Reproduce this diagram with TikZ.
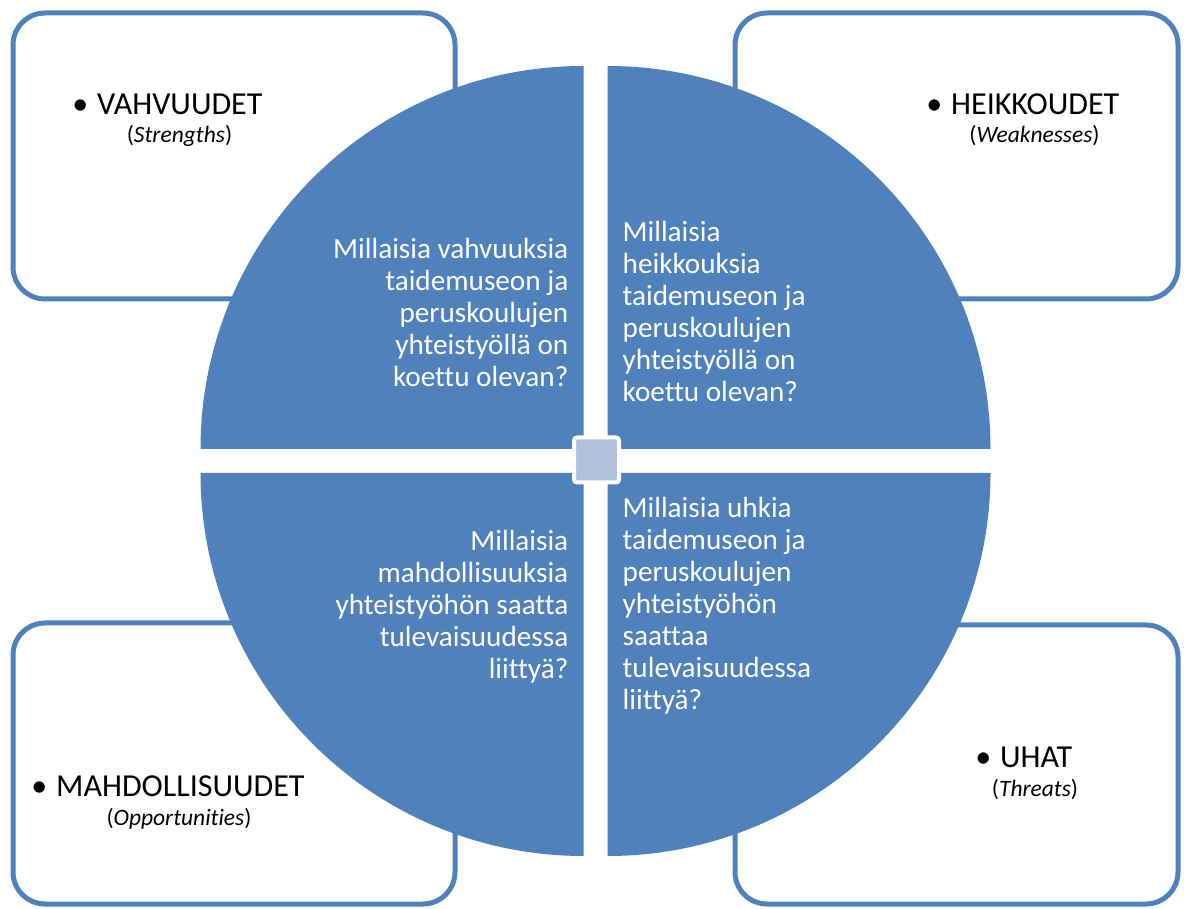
\documentclass[tikz,border=0pt]{standalone}
\usepackage{fontspec}
\setmainfont{Carlito}[Ligatures=NoCommon]
\definecolor{swotblue}{HTML}{4F81BD}
\definecolor{swotlight}{HTML}{B3C2DC}
\tikzset{
  cornerbox/.style={draw=swotblue, line width=5pt, rounded corners=32pt, fill=white},
  quad/.style={fill=swotblue},
  head/.style={inner sep=0pt, anchor=base west, font=\fontsize{32}{38}\selectfont},
  sub/.style={inner sep=0pt, anchor=base, font=\fontsize{23.5}{28}\selectfont},
  qtext/.style={inner sep=0pt, text=white, font=\fontsize{29.2}{32}\selectfont},
}
\begin{document}
\begin{tikzpicture}[x=1pt,y=1pt]
\useasboundingbox (0,0) rectangle (1186,908);
% corner boxes
\begin{scope}
\clip (0,0) rectangle (1186,908);
\draw[cornerbox] (13,609) rectangle (455,895);
\draw[cornerbox] (735,609) rectangle (1178,895);
\draw[cornerbox] (13,4) rectangle (455,285);
\draw[cornerbox] (735,4) rectangle (1178,283);
\end{scope}
% quadrants
\fill[quad] (583.5,459) -- ++(-383,0) arc[start angle=180,end angle=90,radius=383] -- cycle;
\fill[quad] (607.5,459) -- ++(0,383) arc[start angle=90,end angle=0,radius=383] -- cycle;
\fill[quad] (583.5,435) -- ++(0,-383) arc[start angle=270,end angle=180,radius=383] -- cycle;
\fill[quad] (607.5,435) -- ++(383,0) arc[start angle=0,end angle=-90,radius=383] -- cycle;
% centre square
\node[draw=white, line width=4pt, fill=swotlight, minimum size=45pt, inner sep=0pt, rounded corners=3pt] (centre) at (596.5,448) {};
% headings
\node[head] (hS) at (97,793) {\llap{•\hspace{9pt}}VAHVUUDET};
\node[sub] (sS) at (179.5,765) {(\textit{Strengths})};
\node[head] (hW) at (951,793) {\llap{•\hspace{9pt}}HEIKKOUDET};
\node[sub] (sW) at (1034.5,765) {(\textit{Weaknesses})};
\node[head] (hO) at (56,112) {\llap{•\hspace{9pt}}MAHDOLLISUUDET};
\node[sub] (sO) at (179,83) {(\textit{Opportunities})};
\node[head] (hT) at (1000,140) {\llap{•\hspace{9pt}}UHAT};
\node[sub] (sT) at (1035,112) {(\textit{Threats})};
% quadrant texts
\node[qtext, anchor=base east] (tS) at (568.5,649.7) {\begin{tabular}[t]{@{}r@{}}Millaisia vahvuuksia\\taidemuseon ja\\peruskoulujen\\yhteistyöllä on\\koettu olevan?\end{tabular}};
\node[qtext, anchor=base west] (tW) at (622.5,666.3) {\begin{tabular}[t]{@{}l@{}}Millaisia\\heikkouksia\\taidemuseon ja\\peruskoulujen\\yhteistyöllä on\\koettu olevan?\end{tabular}};
\node[qtext, anchor=base east] (tO) at (568.5,357.3) {\begin{tabular}[t]{@{}r@{}}Millaisia\\mahdollisuuksia\\yhteistyöhön saatta\\tulevaisuudessa\\liittyä?\end{tabular}};
\node[qtext, anchor=base west] (tT) at (622.5,390.7) {\begin{tabular}[t]{@{}l@{}}Millaisia uhkia\\taidemuseon ja\\peruskoulujen\\yhteistyöhön\\saattaa\\tulevaisuudessa\\liittyä?\end{tabular}};
\end{tikzpicture}
\end{document}
